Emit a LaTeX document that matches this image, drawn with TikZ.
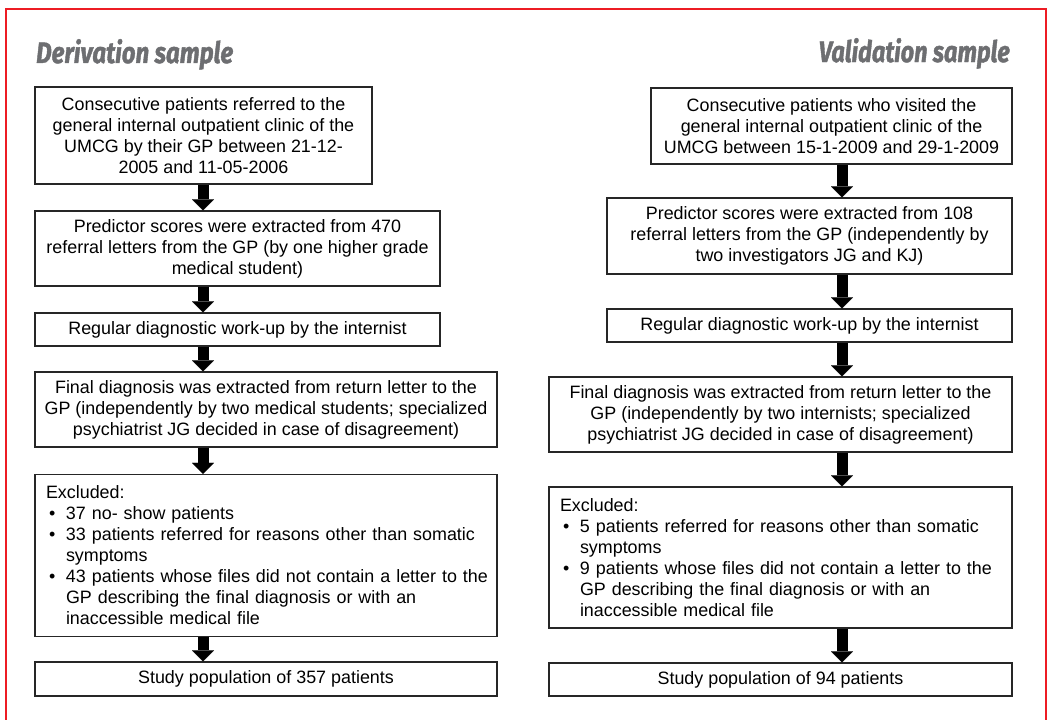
\documentclass[tikz,border=0pt]{standalone}
\usepackage{fontspec}
\setmainfont{Liberation Sans}
\newfontfamily\titlefont[BoldItalicFeatures={FakeBold=1.6}]{Fira Sans}
\usetikzlibrary{arrows.meta}
\definecolor{framered}{RGB}{237,28,36}
\definecolor{titlegray}{RGB}{109,110,113}
\tikzset{
  box/.style={draw=black!85, line width=1.1pt, inner sep=0pt, align=center,
    font=\fontsize{17.9pt}{21pt}\selectfont},
  exbox/.style={draw=black!85, line width=1.1pt, inner xsep=11pt, inner ysep=0pt,
    align=left, font=\fontsize{17.9pt}{21pt}\selectfont},
  arr/.style={line width=11pt, draw=black,
    -{Triangle[length=11pt,width=22pt,line width=0.01pt]}},
  title/.style={inner sep=0pt, text=titlegray,
    font=\titlefont\fontsize{29.5pt}{30pt}\selectfont\bfseries\itshape}
}
\newcommand{\bul}{\hspace*{3pt}\makebox[17pt][l]{•}}
\newcommand{\ind}{\hspace*{20pt}}
\begin{document}
\begin{tikzpicture}[x=1pt,y=-1pt]
\useasboundingbox (0,0) rectangle (1047,720);
\draw[framered, line width=2pt] (6,8.5) rectangle (1046,740);

\node[title, anchor=base west] (tl) at (36,63) {\resizebox{197pt}{\height}{Derivation sample}};
\node[title, anchor=base east] (tr) at (1010,62) {\resizebox{191pt}{\height}{Validation sample}};

\coordinate (lx) at (203,0);
\coordinate (rx) at (842,0);

% left column
\node[box, minimum width=337pt, minimum height=97pt] (l1) at (203.5,135.5)
  {Consecutive patients referred to the\\general internal outpatient clinic of the\\UMCG by their GP between 21-12-\\2005 and 11-05-2006};
\node[box, minimum width=405pt, minimum height=75pt] (l2) at (237.5,248.5)
  {Predictor scores were extracted from 470\\referral letters from the GP (by one higher grade\\medical student)};
\node[box, minimum width=405pt, minimum height=33pt] (l3) at (237.5,329.5)
  {Regular diagnostic work-up by the internist};
\node[box, minimum width=462pt, minimum height=75pt] (l4) at (266,409.5)
  {Final diagnosis was extracted from return letter to the\\GP (independently by two medical students; specialized\\psychiatrist JG decided in case of disagreement)};
\node[exbox, text width=440pt, minimum height=162pt] (l5) at (266,555.5)
  {\mbox{Excluded:}\\
   \mbox{\bul 37 no- show patients}\\
   \mbox{\bul 33 patients referred for reasons other than somatic}\\
   \mbox{\ind symptoms}\\
   \mbox{\bul 43 patients whose files did not contain a letter to the}\\
   \mbox{\ind GP describing the final diagnosis or with an}\\
   \mbox{\ind inaccessible medical file}};
\node[box, minimum width=462pt, minimum height=34pt] (l6) at (266,679)
  {Study population of 357 patients};

% right column
\node[box, minimum width=361pt, minimum height=76pt] (r1) at (831.5,126)
  {Consecutive patients who visited the\\general internal outpatient clinic of the\\UMCG between 15-1-2009 and 29-1-2009};
\node[box, minimum width=405pt, minimum height=76pt] (r2) at (809.5,236)
  {Predictor scores were extracted from 108\\referral letters from the GP (independently by\\two investigators JG and KJ)};
\node[box, minimum width=405pt, minimum height=33pt] (r3) at (809.5,325.5)
  {Regular diagnostic work-up by the internist};
\node[box, minimum width=463pt, minimum height=75pt] (r4) at (780.5,414.5)
  {Final diagnosis was extracted from return letter to the\\GP (independently by two internists; specialized\\psychiatrist JG decided in case of disagreement)};
\node[exbox, text width=441pt, minimum height=141pt] (r5) at (780.5,557.5)
  {\mbox{Excluded:}\\
   \mbox{\bul 5 patients referred for reasons other than somatic}\\
   \mbox{\ind symptoms}\\
   \mbox{\bul 9 patients whose files did not contain a letter to the}\\
   \mbox{\ind GP describing the final diagnosis or with an}\\
   \mbox{\ind inaccessible medical file}};
\node[box, minimum width=463pt, minimum height=33pt] (r6) at (780.5,679.5)
  {Study population of 94 patients};

% arrows
\foreach \a/\b in {l1/l2,l2/l3,l3/l4,l4/l5,l5/l6}
  \draw[arr] (\a.south -| lx) -- (\b.north -| lx);
\foreach \a/\b in {r1/r2,r2/r3,r3/r4,r4/r5,r5/r6}
  \draw[arr] (\a.south -| rx) -- (\b.north -| rx);
\end{tikzpicture}
\end{document}
